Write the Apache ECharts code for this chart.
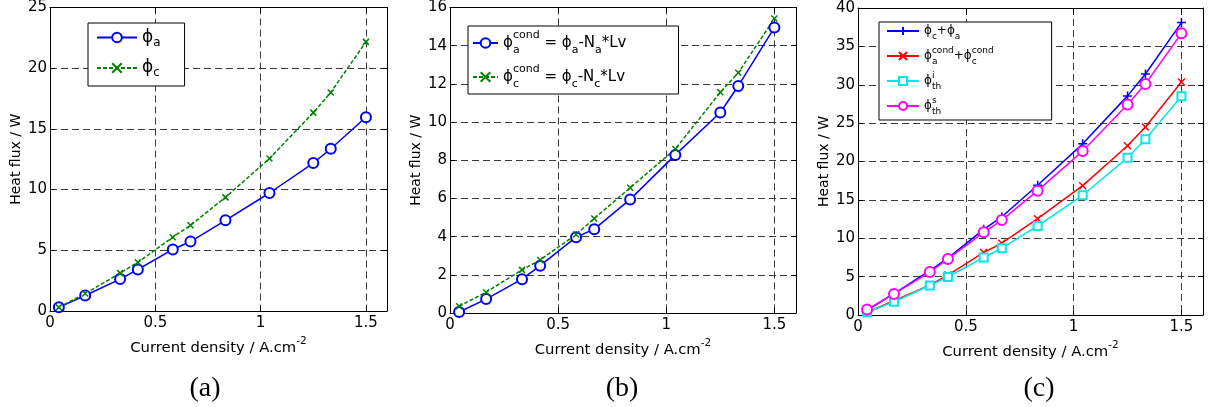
<!DOCTYPE html>
<html>
<head>
<meta charset="utf-8">
<script src="https://cdn.jsdelivr.net/npm/echarts@6/dist/echarts.min.js"></script>
<style>
  html, body { margin: 0; padding: 0; background: #fff; }
  #chart { width: 1208px; height: 407px; }
</style>
</head>
<body>
<div id="chart"></div>
<script>
// Current density (A.cm-2) at which each heat flux was evaluated
const currentDensity = [0.042, 0.167, 0.333, 0.417, 0.583, 0.667, 0.833, 1.042, 1.25, 1.333, 1.5];

// (a) anode / cathode heat flux (W)
const phiAnode   = [0.3, 1.28, 2.63, 3.42, 5.07, 5.72, 7.47, 9.72, 12.19, 13.36, 15.96];
const phiCathode = [0.3, 1.44, 3.12, 4.01, 6.08, 7.06, 9.36, 12.56, 16.34, 18.0, 22.17];

// (b) conductive part of the heat flux (W)
const condAnode   = [0.05, 0.73, 1.77, 2.48, 3.97, 4.39, 5.95, 8.28, 10.5, 11.89, 14.95];
const condCathode = [0.35, 1.09, 2.26, 2.78, 4.11, 4.95, 6.56, 8.59, 11.56, 12.58, 15.42];

// (c) totals and thermal model fluxes (W)
const phiSum   = [0.6, 2.8, 5.77, 7.4, 11.16, 12.8, 16.9, 22.3, 28.55, 31.4, 38.1];
const condSum  = [0.35, 1.85, 3.9, 5.2, 8.15, 9.35, 12.55, 16.85, 22.06, 24.49, 30.36];
const phiThI   = [0.35, 1.72, 3.85, 4.95, 7.5, 8.7, 11.6, 15.6, 20.5, 22.9, 28.5];
const phiThS   = [0.72, 2.75, 5.6, 7.3, 10.77, 12.37, 16.2, 21.36, 27.44, 30.1, 36.7];

// Axis settings per panel
const xTickLabels = ['0', '0.5', '1', '1.5'];
const yMax = [25, 16, 40];
const yStep = [5, 2, 5];
const panelTitles = ['(a)', '(b)', '(c)'];

const FONT = 'DejaVu Sans';
const PHI = '\u03D5';

const grids = [
  { left: 50, top: 4, width: 337, height: 307 },
  { left: 450, top: 6, width: 346, height: 307 },
  { left: 858, top: 8, width: 345, height: 307 }
];

function pairs(ys) { return currentDensity.map((x, i) => [x, ys[i]]); }

const gridLine = { show: true, lineStyle: { color: '#3a3a3a', width: 1, type: [7, 4] } };

const xAxes = [];
const yAxes = [];
grids.forEach((g, i) => {
  xAxes.push({
    type: 'value', gridIndex: i, min: 0, max: 1.6, interval: 0.5, position: 'bottom',
    axisLine: { onZero: false, lineStyle: { color: '#000', width: 1 } },
    axisTick: { inside: true, length: 5, lineStyle: { color: '#000' } },
    axisLabel: {
      color: '#000', fontSize: 15, fontFamily: FONT, margin: 5, showMaxLabel: false,
      formatter: v => { const k = Math.round(v / 0.5); return Math.abs(v - k * 0.5) < 1e-9 ? xTickLabels[k] : ''; }
    },
    splitLine: gridLine,
    name: '{t|Current density / A.cm}{s|-2}',
    nameLocation: 'middle', nameGap: 21,
    nameTextStyle: {
      rich: {
        t: { fontSize: 14.8, fontFamily: FONT, color: '#000', lineHeight: 20, verticalAlign: 'bottom' },
        s: { fontSize: 10.5, fontFamily: FONT, color: '#000', lineHeight: 10, verticalAlign: 'top' }
      }
    }
  });
  yAxes.push({
    type: 'value', gridIndex: i, min: 0, max: yMax[i], interval: yStep[i], position: 'left',
    axisLine: { onZero: false, lineStyle: { color: '#000', width: 1 } },
    axisTick: { inside: true, length: 5, lineStyle: { color: '#000' } },
    axisLabel: { color: '#000', fontSize: 15, fontFamily: FONT, margin: 3 },
    splitLine: gridLine,
    name: 'Heat flux / W', nameLocation: 'middle', nameGap: 27,
    nameTextStyle: { fontSize: 14, fontFamily: FONT, color: '#000' }
  });
});
// mirrored tick marks on the top and right edges of each box
grids.forEach((g, i) => {
  xAxes.push({
    type: 'value', gridIndex: i, min: 0, max: 1.6, interval: 0.5, position: 'top',
    axisLine: { onZero: false, lineStyle: { color: '#000', width: 1 } },
    axisTick: { inside: true, length: 5, lineStyle: { color: '#000' } },
    axisLabel: { show: false }, splitLine: { show: false }
  });
  yAxes.push({
    type: 'value', gridIndex: i, min: 0, max: yMax[i], interval: yStep[i], position: 'right',
    axisLine: { onZero: false, lineStyle: { color: '#000', width: 1 } },
    axisTick: { inside: true, length: 5, lineStyle: { color: '#000' } },
    axisLabel: { show: false }, splitLine: { show: false }
  });
});

const X_MARK = 'path://M0,0L10,10M10,0L0,10';
const PLUS_MARK = 'path://M5,0L5,10M0,5L10,5';

function lineSeries(name, g, ys, color, symbol, size, dashed) {
  return {
    name, type: 'line', xAxisIndex: g, yAxisIndex: g,
    data: pairs(ys),
    symbol, symbolSize: size,
    smooth: false,
    lineStyle: { color, width: 1.5, type: dashed ? [4, 2] : 'solid' },
    itemStyle: { color, borderColor: color, borderWidth: 1.5 },
    emphasis: { disabled: true },
    silent: true
  };
}

const series = [
  lineSeries('phiA', 0, phiAnode, '#0000ff', 'emptyCircle', 10, false),
  lineSeries('phiC', 0, phiCathode, '#008000', X_MARK, 6, true),
  lineSeries('condA', 1, condAnode, '#0000ff', 'emptyCircle', 10, false),
  lineSeries('condC', 1, condCathode, '#008000', X_MARK, 6, true),
  lineSeries('sumPhi', 2, phiSum, '#0000ff', PLUS_MARK, 9, false),
  lineSeries('sumCond', 2, condSum, '#ff0000', X_MARK, 7, false),
  lineSeries('thI', 2, phiThI, '#00e8e8', 'emptyRect', 8, false),
  lineSeries('thS', 2, phiThS, '#ff00ff', 'emptyCircle', 10, false)
];

const legendLabels = {
  phiA: `{p|${PHI}}{b|a}`,
  phiC: `{p|${PHI}}{b|c}`,
  condA: `{p|${PHI}}{bz|a}{t|cond}{p| = ${PHI}}{b|a}{p|-N}{b|a}{p|*Lv}`,
  condC: `{p|${PHI}}{bz|c}{t|cond}{p| = ${PHI}}{b|c}{p|-N}{b|c}{p|*Lv}`,
  sumPhi: `{p|${PHI}}{b|c}{p|+${PHI}}{b|a}`,
  sumCond: `{p|${PHI}}{bz|a}{t|cond}{p|+${PHI}}{bz|c}{t|cond}`,
  thI: `{p|${PHI}}{bz|th}{t|i}`,
  thS: `{p|${PHI}}{bz|th}{t|s}`
};

function richSet(main, small, lh, zw) {
  return {
    p: { fontSize: main, fontFamily: FONT, color: '#000', lineHeight: lh, verticalAlign: 'middle' },
    b: { fontSize: small, fontFamily: FONT, color: '#000', lineHeight: small + 1, verticalAlign: 'bottom' },
    bz: { fontSize: small, fontFamily: FONT, color: '#000', lineHeight: small + 1, verticalAlign: 'bottom', width: zw },
    t: { fontSize: small, fontFamily: FONT, color: '#000', lineHeight: small + 1, verticalAlign: 'top' }
  };
}

function legendBox(names, left, top, padding, itemWidth, itemHeight, itemGap, rich) {
  return {
    orient: 'vertical', left, top, padding, itemWidth, itemHeight, itemGap,
    data: names, selectedMode: false,
    backgroundColor: '#fff', borderColor: '#000', borderWidth: 1, borderRadius: 0,
    formatter: n => legendLabels[n],
    textStyle: { rich }
  };
}

const option = {
  animation: false,
  backgroundColor: '#fff',
  textStyle: { fontFamily: FONT },
  title: panelTitles.map((t, i) => ({
    text: t, left: [205, 622, 1039][i], top: 375, textAlign: 'center', padding: 0,
    textStyle: { fontFamily: 'Liberation Serif', fontSize: 28, fontWeight: 'normal', color: '#000' }
  })),
  grid: grids,
  xAxis: xAxes,
  yAxis: yAxes,
  legend: [
    legendBox(['phiA', 'phiC'], 88, 23, [6, 24, 7, 8], 40, 12, 11, richSet(17, 12, 22, 0.01)),
    legendBox(['condA', 'condC'], 468, 26, [4, 52, 4, 4], 25, 12, 8, richSet(15, 11, 26, 0.01)),
    legendBox(['sumPhi', 'sumCond', 'thI', 'thS'], 879, 22, [3, 58, 4, 7], 32, 10, 5, richSet(12, 9, 20, 0.01))
  ],
  series
};

const chart = echarts.init(document.getElementById('chart'), null, { renderer: 'canvas' });
chart.setOption(option);
</script>
</body>
</html>
